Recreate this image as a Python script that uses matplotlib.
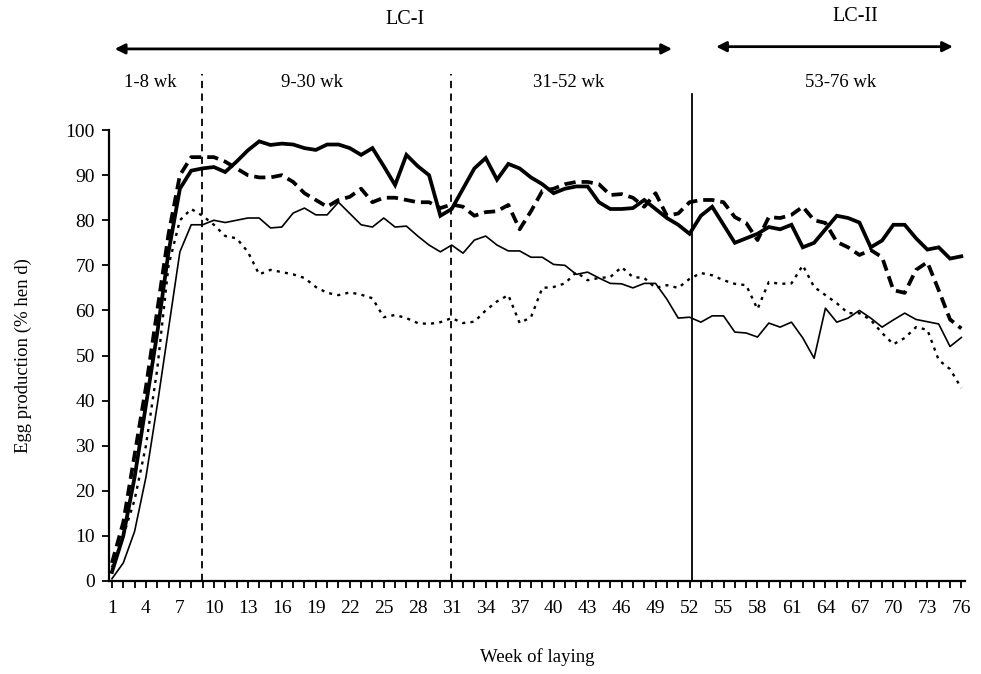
import numpy as np
import matplotlib
matplotlib.use("Agg")
import matplotlib.pyplot as plt

plt.rcParams['font.family'] = ['Liberation Serif', 'DejaVu Serif']

weeks = list(range(1, 77))

# thick solid
prod_a = [2, 10, 23, 39, 55, 73, 87, 91, 91.5, 91.8, 90.7, 93, 95.5, 97.5, 96.7, 97,
          96.8, 96, 95.6, 96.8, 96.8, 96, 94.5, 96, 92, 87.8, 94.5, 92, 90, 81,
          82.5, 87, 91.5, 93.8, 89, 92.5, 91.5, 89.5, 88, 86, 87, 87.5, 87.5, 84, 82.5, 82.5,
          82.7, 84.5, 82.5, 80.5, 79, 77, 81, 83, 79, 75, 76, 77, 78.5, 78,
          79, 74, 75, 78, 81, 80.5, 79.5, 74, 75.5, 79, 79, 76, 73.5, 74, 71.5, 72]
# thick dashed
prod_b = [4, 13, 28, 43, 60, 77, 90, 94, 94, 94, 93, 91.5, 90, 89.5, 89.5, 90,
          88.5, 86, 84.5, 83, 84.5, 85.2, 87, 84, 85, 85, 84.5, 84, 84, 82.7,
          83.5, 83, 81, 81.8, 82, 83.4, 78, 82, 86.5, 87, 88, 88.5, 88.5, 88, 85.6, 85.8,
          85, 83, 86, 81, 81.5, 84, 84.5, 84.5, 84, 80.7, 79.4, 75.6, 80.7, 80.5,
          81.2, 83, 80, 79.4, 75.2, 74, 72.3, 73.4, 71.8, 64.5, 63.9, 69, 70.7, 64.5, 58, 56]
# thin solid
prod_c = [0.5, 4, 11, 23, 39, 56, 73, 79, 79, 80, 79.5, 80, 80.5, 80.5, 78.3, 78.5,
          81.6, 82.7, 81.2, 81.2, 84, 81.5, 79, 78.5, 80.5, 78.5, 78.7, 76.5, 74.5, 73,
          74.5, 72.7, 75.6, 76.5, 74.5, 73.2, 73.2, 71.8, 71.8, 70.2, 70, 68, 68.5, 67.2, 66, 65.9,
          65, 66, 66, 62.5, 58.3, 58.5, 57.4, 58.8, 58.8, 55.2, 55, 54.1, 57.2, 56.3,
          57.4, 53.9, 49.4, 60.5, 57.4, 58.3, 60, 58.3, 56.3, 57.9, 59.4, 58, 57.5, 57, 52, 54]
# thin dotted
prod_d = [3, 10, 18, 30, 47, 70, 80, 82.5, 81, 79, 76.5, 76, 73, 68, 69, 68.5,
          68, 67.2, 65.2, 63.9, 63.4, 64, 63.5, 62.7, 58.5, 59, 58.3, 57.2, 57, 57.4,
          58.3, 57.2, 57.5, 60, 62, 63.4, 57.2, 58.5, 65, 65.2, 66, 68.5, 66.7, 67.2, 67.4, 69.6,
          67.4, 67.2, 65, 65.6, 65, 67, 68.3, 67.8, 66.7, 65.9, 65.6, 60.3, 66.3, 65.9,
          66, 70, 65.2, 63.4, 61.6, 59.4, 59.4, 57.9, 55, 52.5, 53.9, 56.3, 55.7, 49, 47, 42.8]

period_lines = [8.95, 30.9]
cycle_line = 52.2
period_labels = ['1-8 wk', '9-30 wk', '31-52 wk', '53-76 wk']
period_label_x = [4.4, 18.7, 41.3, 65.3]

fig = plt.figure(figsize=(9.81, 6.74), dpi=100)
ax = fig.add_axes([0.111, 0.138, 0.873, 0.669])

ax.plot(weeks, prod_a, color='black', lw=2.7, solid_joinstyle='miter')
ax.plot(weeks, prod_b, color='black', lw=2.7, dashes=(3, 1.6))
ax.plot(weeks, prod_c, color='black', lw=1.2)
ax.plot(weeks, prod_d, color='black', lw=1.7, dashes=(1.3, 2.2))

ax.set_xlim(0.73, 76.35)
ax.set_ylim(0, 100)

trans = ax.get_xaxis_transform()
for x in period_lines:
    ax.plot([x, x], [0, 1.125], transform=trans, color='black', lw=1.3,
            dashes=(4, 3), clip_on=False)
ax.plot([cycle_line, cycle_line], [0, 1.08], transform=trans, color='black',
        lw=1.3, clip_on=False)

# period arrows and labels
ax.annotate('', xy=(1, 1.18), xytext=(50.7, 1.18), xycoords=trans, textcoords=trans,
            arrowprops=dict(arrowstyle='<|-|>', color='black', lw=2, mutation_scale=15))
ax.annotate('', xy=(54.1, 1.185), xytext=(75.5, 1.185), xycoords=trans, textcoords=trans,
            arrowprops=dict(arrowstyle='<|-|>', color='black', lw=2, mutation_scale=15))
ax.text(26.9, 1.245, 'LC-I', transform=trans, ha='center', va='center', fontsize=14.5)
ax.text(66.6, 1.252, 'LC-II', transform=trans, ha='center', va='center', fontsize=14.5)
for lab, x in zip(period_labels, period_label_x):
    ax.text(x, 1.105, lab, transform=trans, ha='center', va='center', fontsize=13.5)

ax.set_yticks(range(0, 101, 10))
ax.set_xticks(weeks[::3])
ax.set_xticks(weeks, minor=True)
ax.tick_params(axis='both', which='both', direction='out', length=5, width=1.3,
               labelsize=14, colors='black')
ax.tick_params(axis='x', which='major', pad=9)
ax.tick_params(axis='y', which='major', pad=5)

for side in ['top', 'right']:
    ax.spines[side].set_visible(False)
for side in ['left', 'bottom']:
    ax.spines[side].set_linewidth(1.6)

ax.set_xlabel('Week of laying', fontsize=13.5, labelpad=22)
ax.set_ylabel('Egg production (% hen d)', fontsize=13.5, labelpad=24)

fig.savefig('out.png', dpi=100)
